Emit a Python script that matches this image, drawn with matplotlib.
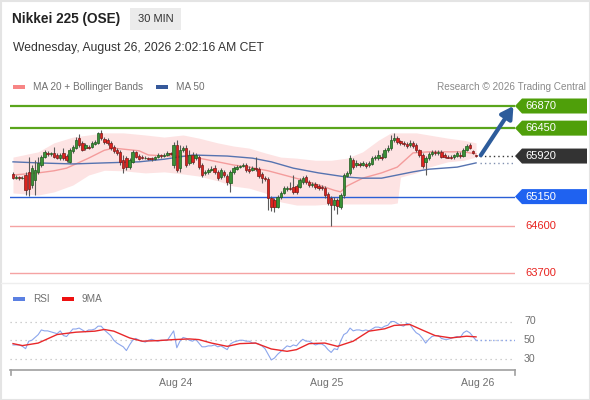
import matplotlib
matplotlib.use('Agg')
import matplotlib.pyplot as plt
from matplotlib.patches import Polygon, Rectangle
import numpy as np

plt.rcParams['font.family'] = ['Liberation Sans', 'DejaVu Sans']

# ---------------- data ----------------
open_ = [65580,65500,65520,65500,65560,65620,65370,65460,65620,65750,
         65900,65980,65960,65980,65940,65880,65980,65920,65810,66020,
         66070,66260,66170,66070,66090,66090,66150,66170,66360,66240,
         66220,66170,66090,66030,66000,65840,65880,65710,65810,66000,
         65920,65900,65880,65880,65880,65860,65900,65940,65920,65940,
         65980,65750,66130,65690,66030,66070,65790,65940,65880,65900,
         65750,65600,65620,65650,65690,65620,65520,65620,65540,65410,
         65620,65670,65710,65730,65750,65670,65650,65690,65670,65580,
         65500,65480,65120,65080,64950,65140,65220,65290,65310,65330,
         65350,65330,65430,65520,65430,65370,65390,65350,65330,65310,
         65200,65120,64990,65080,64950,65180,65540,65600,65840,65750,
         65770,65750,65770,65750,65770,65880,65880,65900,65900,66030,
         66070,66220,66260,66210,66170,66150,66130,66170,66130,66030,
         65940,65810,65880,65960,66000,65980,66000,65940,65900,65900,
         65900,65920,65940,65920,66030,66130,66020,65940]
close = [65500,65520,65500,65510,65270,65290,65690,65650,65790,65900,
         66000,65960,65970,65900,65880,65940,65880,65840,66030,66090,
         66220,66130,66030,66130,66080,66170,66190,66360,66260,66190,
         66170,66070,66020,65980,65810,65690,65710,65840,66000,65900,
         65860,65880,65890,65860,65860,65900,65940,65920,65940,65980,
         65960,66130,65650,66030,66070,65750,65940,65810,65940,65710,
         65560,65620,65650,65670,65620,65500,65650,65560,65430,65620,
         65690,65710,65730,65750,65650,65640,65690,65670,65540,65500,
         65480,65120,64950,64950,65140,65220,65310,65310,65300,65240,
         65240,65460,65500,65430,65370,65390,65330,65310,65320,65180,
         65030,64990,65080,64970,65180,65560,65600,65880,65710,65790,
         65750,65790,65730,65790,65880,65900,65940,65880,66030,66070,
         66220,66260,66190,66170,66150,66110,66170,66110,66030,65940,
         65730,65880,65960,66000,65980,66000,65900,65900,65890,65880,
         65940,65980,65920,66030,66110,66070,65980,65920]
high = [65620,65560,65540,65540,65620,65900,65750,65840,65900,65940,
        66030,66020,66000,66090,65980,65980,66070,65960,66070,66130,
        66280,66340,66210,66170,66130,66210,66220,66380,66410,66280,
        66260,66210,66130,66070,66030,65940,65920,65880,66030,66020,
        65960,65940,65920,65900,65900,65920,65980,65960,65980,66020,
        66000,66190,66220,66130,66110,66130,66030,66000,65980,65940,
        65790,65650,65690,65730,65750,65650,65690,65650,65580,65650,
        65730,65750,65750,65790,65790,65730,65730,65900,65710,65620,
        65540,65520,65160,65120,65180,65260,65350,65350,65430,65560,
        65390,65500,65540,65560,65460,65430,65430,65390,65370,65350,
        65240,65160,65140,65120,65220,65600,65640,65940,65880,65840,
        65810,65830,65810,65830,65920,65940,66030,65980,66070,66130,
        66320,66360,66300,66220,66210,66190,66220,66210,66170,66050,
        65980,65920,66000,66030,66030,66030,66030,65980,65940,65940,
        65960,66020,66000,66070,66150,66170,66040,65940]
low = [65480,65480,65460,65480,65180,65160,65310,65180,65580,65710,
       65880,65920,65920,65880,65860,65840,65840,65810,65790,65980,
       66050,66090,66020,66030,66050,66070,66130,66150,66220,66150,
       66130,66030,65980,65940,65750,65600,65650,65670,65790,65880,
       65840,65860,65860,65840,65830,65840,65880,65880,65900,65920,
       65940,65690,65620,65620,66000,65710,65750,65770,65840,65670,
       65520,65560,65580,65640,65580,65460,65480,65520,65370,65240,
       65580,65650,65690,65710,65620,65600,65640,65640,65500,65410,
       65450,64890,64880,64860,64930,65100,65200,65260,65270,65200,
       65200,65310,65390,65390,65330,65330,65290,65270,65270,65120,
       64990,64590,64890,64820,64910,65120,65520,65560,65670,65710,
       65710,65730,65690,65710,65750,65840,65840,65840,65880,66000,
       66030,66190,66150,66130,66110,66070,66090,66070,66000,65900,
       65690,65560,65840,65920,65940,65940,65880,65880,65880,65860,
       65860,65900,65880,65900,66020,66050,65960,65900]

ma20_idx = [0,8,13,17,24,29,32,40,43,49,54,59,65,70,75,81,86,91,97,102,104,106,111,117,122,127,132,143,147]
ma20 = [65560,65600,65640,65690,65880,66030,66070,66020,65940,65920,65920,65880,65810,65750,65710,
        65640,65560,65480,65370,65270,65240,65350,65500,65600,65710,65980,66000,66000,65960]
ma50_idx = [0,8,19,29,40,48,57,68,76,82,89,97,106,111,117,122,127,132,141,147]
ma50 = [65810,65790,65770,65790,65810,65860,65940,65920,65880,65810,65690,65600,65520,65500,65500,
        65560,65620,65670,65710,65790]
bb_idx = [0,8,13,19,24,29,35,42,48,54,59,65,70,75,80,85,90,96,101,106,111,116,120,122,123,128,132,138,143,147]
bb_up = [65900,66000,66170,66280,66320,66360,66360,66320,66280,66320,66260,66170,66110,66070,65980,
         65900,65880,65840,65840,65880,66000,66220,66360,66360,66360,66360,66320,66260,66220,66170]
bb_lo = [65220,65180,65240,65370,65560,65650,65640,65600,65620,65580,65540,65450,65350,65310,65220,
         65050,64990,64990,65010,65010,65010,65010,65010,65030,65520,65600,65710,65810,65840,65900]

rsi = [45,45,45,43.5,41,49,50,53,56,61,
       60,60,59,58,57,60,55,54,58,62,
       62,63,61,59,61,61,62,65,65,61,
       58,55,50,47,45,43,39,45,50,52,
       50,49,48,50,51,50,49,50,50,50,
       55,60,42,49,53,52,50,49,51,47,
       43,43,44,44,45,43,44,42,40,46,
       48,49,50,50,49,49,47,47,46,44,
       41,35,29,31,35,38,41,44,43,45,
       44,48,51,49,49,47,45,46,46,44,
       40,37,41,40,49,56,58,63,60,61,
       61,60,61,60,62,64,64,63,65,66,
       70,70,68,66,65,68,67,62,58,56,
       52,47,51,54,55,55,52,51,51,52,
       53,54,53,58,60,58,54,50]
ma9_idx = [0,3,8,14,20,26,29,32,37,41,46,51,56,59,63,68,72,77,82,87,90,94,99,103,108,113,118,121,126,130,134,139,144,147]
ma9 = [46.4,44.3,47,56.1,58.6,59.7,61.5,59.7,52.5,49,49.6,50.7,51.4,50.7,47,43.5,46.4,47,40.7,38.2,
       40,46.4,47,43.5,49,59.7,62.2,65.8,66.8,60.8,55,52.5,54.3,53.6]

resist_levels = [66870, 66450]
last_price = 65920
support_level = 65150
low_levels = [64600, 63700]
rsi_levels = [70, 50, 30]
day_ticks = [51.5, 99.5, 147.5]
day_labels = ['Aug 24', 'Aug 25', 'Aug 26']

title = 'Nikkei 225 (OSE)'
timeframe = '30 MIN'
date_text = 'Wednesday, August 26, 2026 2:02:16 AM CET'

# ---------------- figure ----------------
W, H = 590, 400
fig = plt.figure(figsize=(W / 100, H / 100), dpi=100)
fig.patch.set_facecolor('white')


def fbox(x0, y0, x1, y1):
    return [x0 / W, 1 - y1 / H, (x1 - x0) / W, (y1 - y0) / H]


step = 3.15
x_left = (10 - 13) / step
x_right = (515 - 13) / step

ax = fig.add_axes(fbox(10, 100, 515, 280))
k = (66870 - 63700) / 167.0
ax.set_ylim(63700 - 7 * k, 66870 + 6 * k)
ax.set_xlim(x_left, x_right)
ax.axis('off')
ax.patch.set_alpha(0)

O = np.array(open_); C = np.array(close); Hh = np.array(high); Ll = np.array(low)
idx = np.arange(len(C))

ax.fill_between(bb_idx, bb_lo, bb_up, color='#fde3e3', lw=0, zorder=1)
ax.plot(ma20_idx, ma20, color='#f49c9c', lw=1.0, zorder=2)
ax.plot(ma50_idx, ma50, color='#5673b0', lw=1.0, zorder=2)

for lv in resist_levels:
    ax.axhline(lv, color='#5aa51c', lw=1.6, zorder=1.5)
ax.axhline(support_level, color='#2a5fd6', lw=1.0, zorder=1.5)
for lv in low_levels:
    ax.axhline(lv, color='#f5a3a3', lw=1.0, zorder=1.5)

up = C >= O
ax.vlines(idx, Ll, Hh, color='#5a5a5a', lw=0.8, zorder=3)
bottoms = np.minimum(O, C)
heights = np.maximum(np.abs(C - O), 12)
ax.bar(idx, heights, bottom=bottoms, width=0.78,
       color=np.where(up, '#3a9136', '#dc231e'),
       edgecolor=np.where(up, '#1e5a1e', '#7a1a1a'), lw=0.5, zorder=4)

# dotted extensions
ax.plot([len(C) + 0.3, x_right], [last_price, last_price], color='#333333', lw=1,
        ls=(0, (1, 2.2)), zorder=3)
ax.plot([len(C) + 0.3, x_right], [ma50[-1], ma50[-1]], color='#8090b0', lw=1,
        ls=(0, (1, 2.2)), zorder=3)

ax.annotate('', xy=(x_right - 0.5, resist_levels[0]), xytext=(len(C) + 0.5, last_price + 15),
            arrowprops=dict(arrowstyle='-|>,head_length=0.7,head_width=0.4', color='#2d5c9b',
                            lw=3, shrinkA=0, shrinkB=0), zorder=6)

# RSI panel
rx = fig.add_axes(fbox(10, 305, 515, 369.5))
ppu = (359 - 321.5) / 40.0
rx.set_ylim(30 - (369.5 - 359) / ppu, 70 + (321.5 - 305) / ppu)
rx.set_xlim(x_left, x_right)
rx.patch.set_alpha(0)
for s in ['top', 'left', 'right']:
    rx.spines[s].set_visible(False)
rx.spines['bottom'].set_color('#a0a0a0')
rx.spines['bottom'].set_linewidth(1.2)
rx.set_xticks([]); rx.set_yticks([])
for v in rsi_levels:
    rx.axhline(v, color='#c0c0c0', lw=0.9, ls=(0, (1, 3)))
rx.plot(idx, rsi, color='#8ca6ec', lw=0.8, zorder=3)
rx.plot(ma9_idx, ma9, color='#e8282a', lw=1.0, zorder=4)
rx.plot([len(rsi) - 1, x_right], [rsi[-1], rsi[-1]], color='#8ca6ec', lw=1, ls=(0, (1, 2)), zorder=3)

# ---------------- overlay (pixel coordinates) ----------------
ov = fig.add_axes([0, 0, 1, 1])
ov.set_xlim(0, W); ov.set_ylim(H, 0)
ov.axis('off'); ov.patch.set_alpha(0)


def py(axis, val):
    return H - axis.transData.transform((0, val))[1]


def px(axis, val):
    return axis.transData.transform((val, 0))[0]


ov.add_patch(Rectangle((0.5, 0.5), W - 1, H - 1, fill=False, ec='#e4e4e4', lw=1.5))
ov.plot([1, W - 1], [283, 283], color='#eeeeee', lw=1)

ov.text(12, 19, title, fontsize=9.8, fontweight='bold', color='#222222', va='center', ha='left')
ov.add_patch(Rectangle((130, 8), 51, 22, fc='#ebebeb', ec='none'))
ov.text(155.5, 19, timeframe, fontsize=8, color='#333333', va='center', ha='center')
ov.text(13, 48, date_text, fontsize=8.7, color='#333333', va='center', ha='left')

ov.add_patch(Rectangle((13, 84.5), 12, 4.5, fc='#f78585', ec='none'))
ov.text(33, 86.8, 'MA 20 + Bollinger Bands', fontsize=7.2, color='#707070', va='center')
ov.add_patch(Rectangle((156, 84.5), 12, 4.5, fc='#36599a', ec='none'))
ov.text(176, 86.8, 'MA 50', fontsize=7.2, color='#707070', va='center')
ov.text(586, 86.8, 'Research \u00a9 2026 Trading Central', fontsize=7.2, color='#8a8a8a',
        va='center', ha='right')


def tag(price, color):
    yc = py(ax, price)
    ov.add_patch(Polygon([(515, yc), (522, yc - 7.5), (587, yc - 7.5), (587, yc + 7.5),
                          (522, yc + 7.5)], closed=True, fc=color, ec='none'))
    ov.text(525, yc + 0.3, f'{price}', fontsize=8, color='white', va='center', ha='left')


for lv in resist_levels:
    tag(lv, '#4f9f0a')
tag(last_price, '#333333')
tag(support_level, '#1f62f0')
for lv in low_levels:
    ov.text(525, py(ax, lv) + 0.3, f'{lv}', fontsize=8, color='#e8231f', va='center', ha='left')

# RSI legend and labels
ov.add_patch(Rectangle((13, 296.5), 12, 4.5, fc='#5b80e2', ec='none'))
ov.text(33, 298.8, 'RSI', fontsize=7.2, color='#707070', va='center')
ov.add_patch(Rectangle((62, 296.5), 12, 4.5, fc='#ee1111', ec='none'))
ov.text(82, 298.8, '9MA', fontsize=7.2, color='#707070', va='center')
for v in rsi_levels:
    ov.text(524, py(rx, v), f'{v}', fontsize=7.6, color='#707070', va='center', ha='left')

ybase = py(rx, rx.get_ylim()[0])
for xe in [10.5, 514.5]:
    ov.plot([xe, xe], [ybase, ybase + 5], color='#a0a0a0', lw=1.2)
for t, lab in zip(day_ticks, day_labels):
    ov.text(px(rx, t), 383, lab, fontsize=7.6, color='#707070', va='center', ha='center')

fig.savefig('out.png', dpi=100)
